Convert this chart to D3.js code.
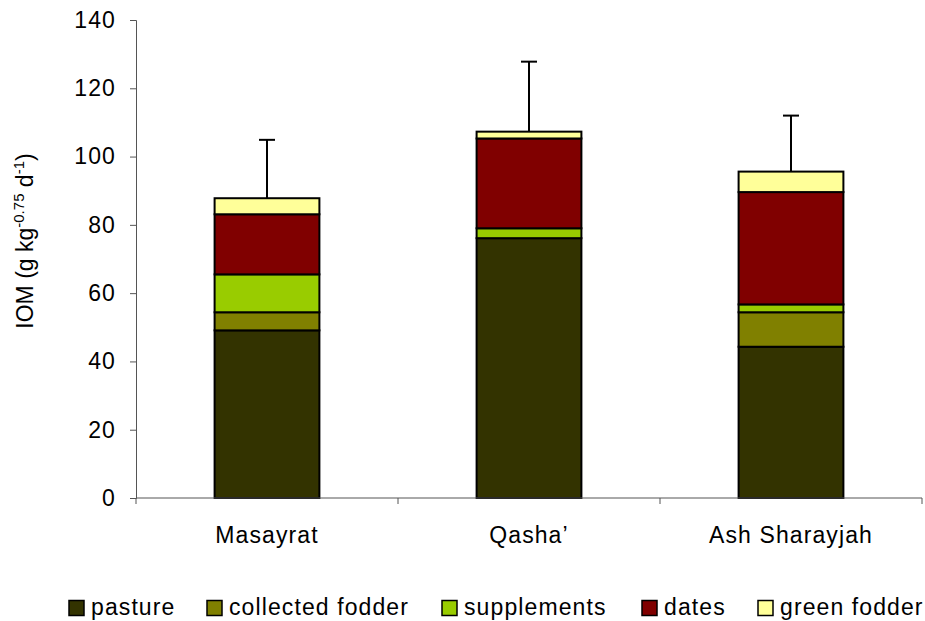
<!DOCTYPE html>
<html>
<head>
<style>
  body { margin: 0; background: #fff; }
  text { font-family: "Liberation Sans", Arial, sans-serif; fill: #000; letter-spacing: 1.1px; }
  text.ytitle { letter-spacing: 0; }
</style>
<script src="https://d3js.org/d3.v7.min.js"></script>
</head>
<body>
<div class="container"></div>
<script>
// data
var sites = ["Masayrat", "Qasha\u2019", "Ash Sharayjah"];
var components = ["pasture", "collected fodder", "supplements", "dates", "green fodder"];
var pasture = [49.1, 76.1, 44.3];
var collectedFodder = [5.3, 0, 10.1];
var supplements = [11.1, 2.9, 2.3];
var dates = [17.6, 26.3, 32.9];
var greenFodder = [4.7, 2.0, 6.0];
var errorUp = [17.1, 20.5, 16.4];
var yTicks = [0, 20, 40, 60, 80, 100, 120, 140];
var colors = ["#333300", "#808000", "#99cc00", "#800000", "#ffff99"];

var series = [pasture, collectedFodder, supplements, dates, greenFodder];

var rows = sites.map(function(s, i) {
  var r = { site: s };
  components.forEach(function(c, j) { r[c] = series[j][i]; });
  r.err = errorUp[i];
  return r;
});

var width = 925, height = 621;
var margin = { top: 20, left: 136, right: 3, bottom: 123 };
var innerW = width - margin.left - margin.right,
    innerH = height - margin.top - margin.bottom;

var svg = d3.select(".container").append("svg")
  .attr("width", width).attr("height", height);

var g = svg.append("g")
  .attr("transform", "translate(" + margin.left + "," + margin.top + ")");

var x = d3.scaleBand().domain(sites).range([0, innerW]).paddingInner(0.6).paddingOuter(0.3);
var xOuter = d3.scaleBand().domain(sites).range([0, innerW]);
var y = d3.scaleLinear().domain([0, 140]).range([innerH, 0]);

var stack = d3.stack().keys(components)(rows);

// bars
g.selectAll(".layer")
  .data(stack)
  .enter().append("g")
  .attr("fill", function(d, i) { return colors[i]; })
  .selectAll("rect")
  .data(function(d) { return d; })
  .enter().append("rect")
  .attr("x", function(d) { return x(d.data.site); })
  .attr("y", function(d) { return y(d[1]); })
  .attr("width", x.bandwidth())
  .attr("height", function(d) { return y(d[0]) - y(d[1]); })
  .attr("stroke", "#000")
  .attr("stroke-width", 2);

// error bars
var topLayer = stack[stack.length - 1];
var capW = 16;
rows.forEach(function(r, i) {
  var cx = x(r.site) + x.bandwidth() / 2;
  var t = topLayer[i][1];
  g.append("line")
    .attr("x1", cx).attr("x2", cx)
    .attr("y1", y(t)).attr("y2", y(t + r.err))
    .attr("stroke", "#000").attr("stroke-width", 2);
  g.append("line")
    .attr("x1", cx - capW / 2).attr("x2", cx + capW / 2)
    .attr("y1", y(t + r.err)).attr("y2", y(t + r.err))
    .attr("stroke", "#000").attr("stroke-width", 2);
});

// y axis
var yAxis = g.append("g")
  .call(d3.axisLeft(y).tickValues(yTicks).tickSize(6).tickPadding(14));
yAxis.select(".domain").attr("stroke", "#555");
yAxis.selectAll(".tick line").attr("stroke", "#555");
yAxis.selectAll("text").style("font-size", "23px").attr("fill", "#000");

// x axis, ticks at category boundaries
var xg = g.append("g").attr("transform", "translate(0," + innerH + ")");
xg.append("line").attr("x1", 0).attr("x2", innerW).attr("y1", 0).attr("y2", 0)
  .attr("stroke", "#555");
var bounds = sites.map(function(s) { return xOuter(s); }).concat([innerW]);
xg.selectAll(".xt").data(bounds).enter().append("line")
  .attr("x1", function(d) { return d; }).attr("x2", function(d) { return d; })
  .attr("y1", 0).attr("y2", 6).attr("stroke", "#555");
xg.selectAll(".xl").data(sites).enter().append("text")
  .attr("x", function(d) { return x(d) + x.bandwidth() / 2; })
  .attr("y", 45)
  .attr("text-anchor", "middle")
  .style("font-size", "23px")
  .text(function(d) { return d; });

// y axis title
var title = svg.append("text")
  .attr("class", "ytitle")
  .attr("transform", "translate(33,241) rotate(-90)")
  .attr("text-anchor", "middle")
  .style("font-size", "23px");
title.append("tspan").text("IOM (g kg");
title.append("tspan").attr("dy", -9).style("font-size", "15px").text("-0.75");
title.append("tspan").attr("dy", 9).text(" d");
title.append("tspan").attr("dy", -9).style("font-size", "15px").text("-1");
title.append("tspan").attr("dy", 9).text(")");

// legend
var legendX = [69, 207, 442, 642, 758];
var legend = svg.append("g").attr("transform", "translate(0,608)");
components.forEach(function(c, i) {
  legend.append("rect")
    .attr("x", legendX[i]).attr("y", -7.5)
    .attr("width", 15).attr("height", 15)
    .attr("fill", colors[i]).attr("stroke", "#000").attr("stroke-width", 1.5);
  legend.append("text")
    .attr("x", legendX[i] + 22).attr("y", 7)
    .style("font-size", "23px")
    .text(c);
});
</script>
</body>
</html>
